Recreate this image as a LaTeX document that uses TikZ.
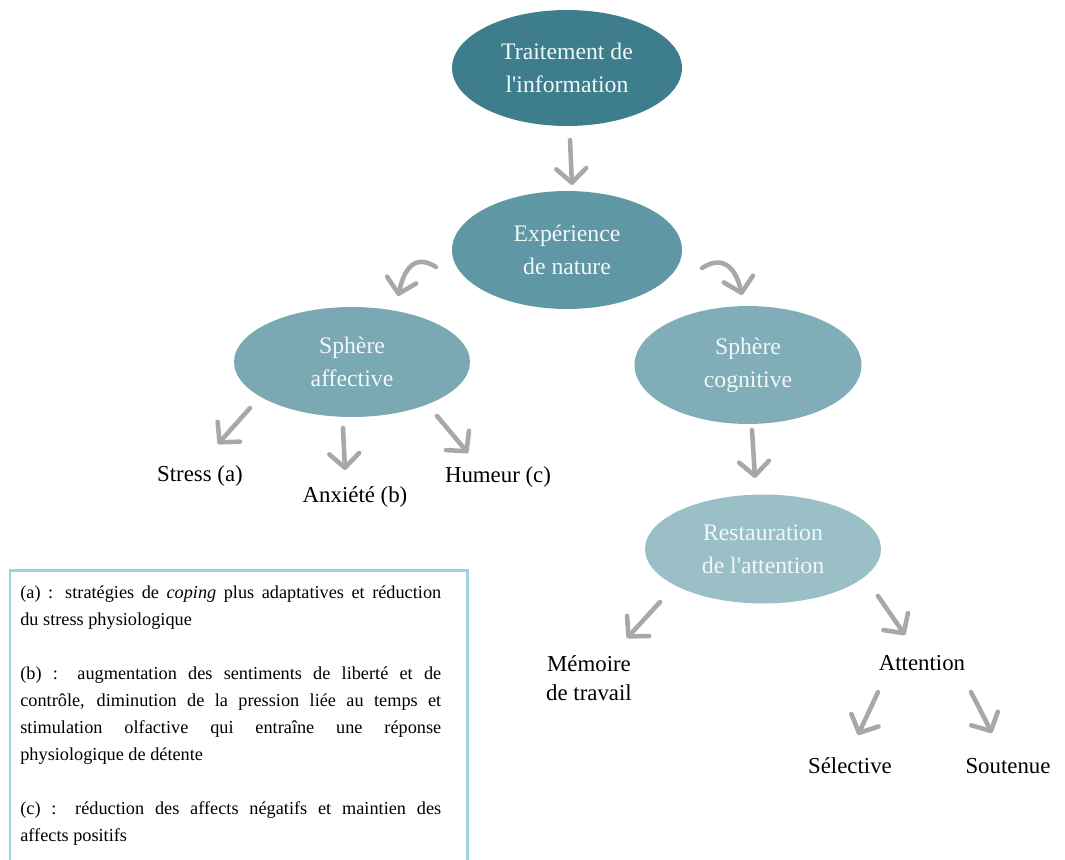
\documentclass[tikz,border=0pt]{standalone}
\usepackage{fontspec}
\setmainfont{Liberation Serif}
\usetikzlibrary{arrows.meta,shapes.geometric}

\definecolor{tealA}{HTML}{3E7E8C}
\definecolor{tealB}{HTML}{5F98A4}
\definecolor{tealC}{HTML}{7AA9B4}
\definecolor{tealD}{HTML}{80ADB8}
\definecolor{tealE}{HTML}{9BBFC7}
\definecolor{bubtext}{HTML}{F2F7F8}
\definecolor{arrgrey}{HTML}{A8A8A8}
\definecolor{boxblue}{HTML}{9DD3E1}

\tikzset{
  bubble/.style={ellipse, inner sep=0pt, align=center, text=bubtext,
    font=\fontsize{13.5}{19}\selectfont},
  lbl/.style={align=center, font=\fontsize{13}{16.5}\selectfont},
  arr/.style={draw=arrgrey, line width=2.6pt, line cap=round, line join=round,
    -{Straight Barb[length=8pt,width=17pt,round]}}
}

\begin{document}
\begin{tikzpicture}[x=0.02cm,y=-0.02cm]
      \useasboundingbox (0,0) rectangle (1065,859);
      % ellipses
      \node[bubble, fill=tealA, minimum width=4.6cm, minimum height=2.32cm] (info) at (567,68) {Traitement de\\l\textquotesingle information};
      \node[bubble, fill=tealB, minimum width=4.6cm, minimum height=2.36cm] (nature) at (567,250) {Expérience\\de nature};
      \node[bubble, fill=tealC, minimum width=4.72cm, minimum height=2.2cm] (affect) at (352,362) {Sphère\\affective};
      \node[bubble, fill=tealD, minimum width=4.54cm, minimum height=2.36cm] (cogn) at (748,365) {Sphère\\cognitive};
      \node[bubble, fill=tealE, minimum width=4.72cm, minimum height=2.18cm] (resto) at (763,549) {Restauration\\de l\textquotesingle attention};
      % labels
      \node[lbl] (stress) at (200,476) {Stress (a)};
      \node[lbl] (anx) at (355,497) {Anxiété (b)};
      \node[lbl] (humeur) at (498,477) {Humeur (c)};
      \node[lbl] (memoire) at (589,678) {Mémoire\\de travail};
      \node[lbl] (attn) at (922,663) {Attention};
      \node[lbl] (select) at (850,766) {Sélective};
      \node[lbl] (soutenue) at (1008,766) {Soutenue};
      % arrows
      \draw[arr] ([shift={(3,72)}]info.center) -- ([shift={(5,-65)}]nature.center);
      \draw[arr] ([shift={(-131,17)}]nature.center) .. controls +(-22,-14) and +(6,-26) .. ([shift={(46,-66)}]affect.center);
      \draw[arr] ([shift={(135,18)}]nature.center) .. controls +(22,-14) and +(-6,-26) .. ([shift={(-6,-70)}]cogn.center);
      \draw[arr] ([shift={(-102,46)}]affect.center) -- ([shift={(18,-32)}]stress.center);
      \draw[arr] ([shift={(-9,66)}]affect.center) -- ([shift={(-10,-27)}]anx.center);
      \draw[arr] ([shift={(85,54)}]affect.center) -- ([shift={(-30,-24)}]humeur.center);
      \draw[arr] ([shift={(4,65)}]cogn.center) -- ([shift={(-8,-71)}]resto.center);
      \draw[arr] ([shift={(-103,53)}]resto.center) -- ([shift={(38,-40)}]memoire.center);
      \draw[arr] ([shift={(115,47)}]resto.center) -- ([shift={(-17,-28)}]attn.center);
      \draw[arr] ([shift={(-44,29)}]attn.center) -- ([shift={(8,-31)}]select.center);
      \draw[arr] ([shift={(49,29)}]attn.center) -- ([shift={(-16,-33)}]soutenue.center);
      % legend
      \draw[boxblue, line width=0.06cm] (10,570) rectangle (467,880);
      \node[anchor=north west, inner sep=0pt, text width=8.42cm, align=justify,
        font=\fontsize{10.4}{15.4}\selectfont] (legend) at (20,585)
        {(a) : stratégies de \emph{coping} plus adaptatives et réduction\linebreak du stress physiologique\\[0.54cm]
         (b) : augmentation des sentiments de liberté et de\linebreak contrôle, diminution de la pression liée au temps et\linebreak stimulation olfactive qui entraîne une réponse\linebreak physiologique de détente\\[0.54cm]
         (c) : réduction des affects négatifs et maintien des\linebreak affects positifs};
    \end{tikzpicture}
\end{document}
